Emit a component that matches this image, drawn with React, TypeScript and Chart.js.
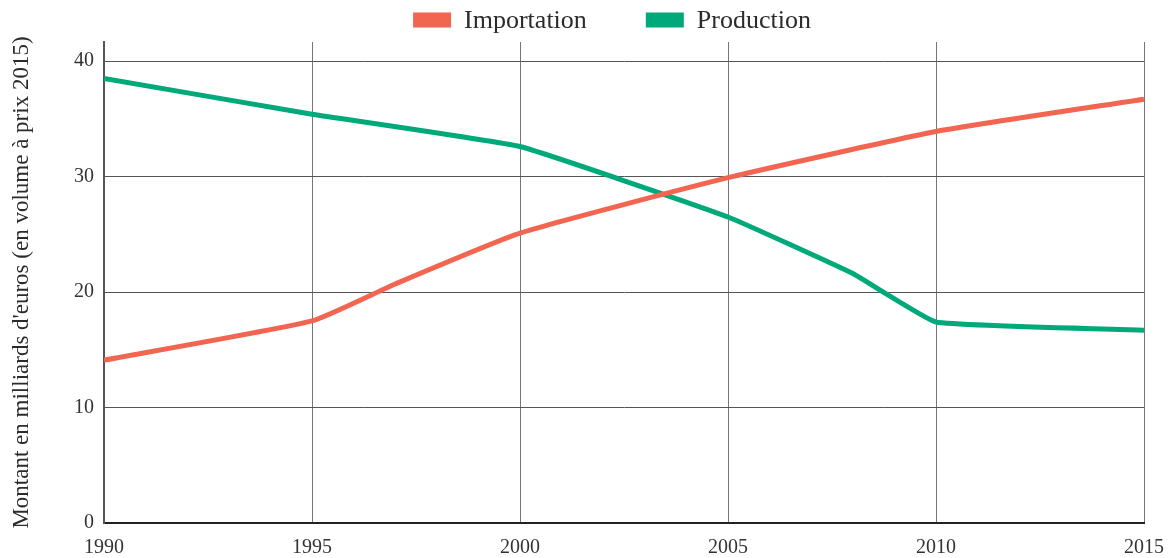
import React, { useEffect, useRef } from 'react';
import { Chart, registerables } from 'chart.js';

Chart.register(...registerables);

const seriesLabels = ['Importation', 'Production'];
const seriesColors = ['#f26651', '#00a97a'];
const importYears = [1990, 1995, 1997, 2000, 2005, 2010, 2015];
const importValues = [14.1, 17.5, 20.7, 25.1, 29.9, 33.9, 36.7];
const prodYears = [1990, 1995, 2000, 2005, 2008, 2010, 2015];
const prodValues = [38.5, 35.4, 32.6, 26.5, 21.6, 17.4, 16.7];
const yTicks = [0, 10, 20, 30, 40];
const xTicks = [1990, 1995, 2000, 2005, 2010, 2015];
const yTitle = "Montant en milliards d'euros (en volume à prix 2015)";

const FONT = '"Liberation Serif", "DejaVu Serif", serif';

const legendPlugin = {
  id: 'customLegend',
  afterDraw(chart: any) {
    const ctx = chart.ctx;
    ctx.save();
    ctx.font = `26px ${FONT}`;
    ctx.textBaseline = 'middle';
    ctx.textAlign = 'left';
    const boxW = 38;
    const boxH = 15;
    const gap = 13;
    const itemGap = 59;
    const items = chart.data.datasets.map((ds: any) => ({ text: ds.label, color: ds.borderColor }));
    const widths = items.map((it: any) => boxW + gap + ctx.measureText(it.text).width);
    const total = widths.reduce((a: number, b: number) => a + b, 0) + itemGap * (items.length - 1);
    const center = (chart.chartArea.left + chart.chartArea.right) / 2 - 12;
    let x = center - total / 2;
    const cy = 20;
    items.forEach((it: any, i: number) => {
      ctx.fillStyle = it.color;
      ctx.fillRect(x, cy - boxH / 2, boxW, boxH);
      ctx.fillStyle = '#2b2b2b';
      ctx.fillText(it.text, x + boxW + gap, cy + 1);
      x += widths[i] + itemGap;
    });
    ctx.restore();
  },
};

export default function App() {
  const ref = useRef<HTMLCanvasElement | null>(null);

  useEffect(() => {
    if (!ref.current) return;
    const chart = new Chart(ref.current, {
      type: 'line',
      data: {
        datasets: [
          {
            label: seriesLabels[0],
            data: importYears.map((x, i) => ({ x, y: importValues[i] })),
            borderColor: seriesColors[0],
            backgroundColor: seriesColors[0],
            borderWidth: 5,
            pointRadius: 0,
            tension: 0.15,
            fill: false,
          },
          {
            label: seriesLabels[1],
            data: prodYears.map((x, i) => ({ x, y: prodValues[i] })),
            borderColor: seriesColors[1],
            backgroundColor: seriesColors[1],
            borderWidth: 5,
            pointRadius: 0,
            tension: 0.1,
            fill: false,
          },
        ],
      },
      options: {
        animation: false,
        responsive: true,
        maintainAspectRatio: false,
        layout: { padding: { top: 42, right: 0, left: 0, bottom: 0 } },
        plugins: {
          legend: { display: false },
          tooltip: { enabled: false },
        },
        scales: {
          x: {
            type: 'linear',
            min: xTicks[0],
            max: xTicks[xTicks.length - 1],
            afterBuildTicks: (scale: any) => {
              scale.ticks = xTicks.map((v) => ({ value: v }));
            },
            afterFit: (scale: any) => {
              scale.height = 35;
              scale.paddingRight = 29;
            },
            ticks: {
              callback: (v: any) => String(v),
              font: { family: FONT, size: 20 },
              color: '#333',
              padding: 13,
              maxRotation: 0,
            },
            grid: { color: '#777', lineWidth: 1, drawTicks: false },
            border: { color: '#222', width: 2 },
          },
          y: {
            type: 'linear',
            min: 0,
            max: 41.65,
            afterBuildTicks: (scale: any) => {
              scale.ticks = yTicks.map((v) => ({ value: v }));
            },
            afterFit: (scale: any) => {
              scale.width = 104;
            },
            ticks: {
              font: { family: FONT, size: 20 },
              color: '#333',
              padding: 10,
            },
            grid: {
              color: (c: any) => (c.tick && c.tick.value === 0 ? 'rgba(0,0,0,0)' : '#555'),
              lineWidth: 1,
              drawTicks: false,
            },
            border: { color: '#555', width: 2 },
            title: {
              display: true,
              text: yTitle,
              font: { family: FONT, size: 23 },
              color: '#2b2b2b',
              padding: { top: 8, bottom: 0 },
            },
          },
        },
      },
      plugins: [legendPlugin],
    });
    return () => chart.destroy();
  }, []);

  return (
    <div style={{ position: 'fixed', left: 0, top: 0, width: 1173, height: 558, background: '#fff' }}>
      <canvas ref={ref} />
    </div>
  );
}
